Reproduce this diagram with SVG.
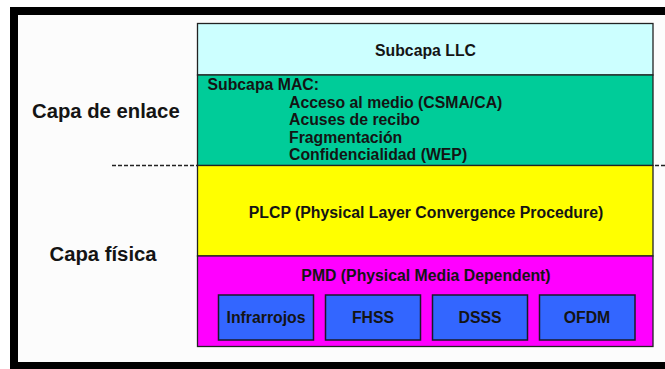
<svg xmlns="http://www.w3.org/2000/svg" width="665" height="369" viewBox="0 0 665 369">
<style>
text{font-family:"Liberation Sans",Arial,sans-serif;font-weight:bold;fill:#141414}
.big{font-size:20.3px}
.t{font-size:15.8px}
.c{text-anchor:middle}
.layer{stroke:#222;stroke-width:1.3}
.blue{fill:#3366FF;stroke:#1a1a2a;stroke-width:1.5}
.dash{stroke:#222;stroke-width:1.4;stroke-dasharray:4 2;fill:none}
</style>
<rect width="665" height="369" fill="#fff"/>
<g id="frame">
<rect x="14" y="11" width="700" height="355" fill="#fcfcfc" stroke="#000" stroke-width="8"/>
</g>
<g id="labels">
<text class="big" x="32" y="118">Capa de enlace</text>
<text class="big" x="49.5" y="260.5">Capa física</text>
</g>
<g id="connectors">
<line class="dash" x1="112" y1="165.5" x2="197" y2="165.5"/>
<line class="dash" x1="655" y1="165.5" x2="665" y2="165.5"/>
</g>
<g id="llc">
<rect class="layer" x="197.5" y="23.5" width="455.5" height="51.5" fill="#CCFFFF"/>
<text class="t c" x="425.5" y="56">Subcapa LLC</text>
</g>
<g id="mac">
<rect class="layer" x="197.5" y="75" width="455.5" height="90.5" fill="#00CC99"/>
<text class="t" x="207.5" y="90">Subcapa MAC:</text>
<text class="t" x="289" y="107.5">Acceso al medio (CSMA/CA)</text>
<text class="t" x="289" y="125">Acuses de recibo</text>
<text class="t" x="289" y="142.5">Fragmentación</text>
<text class="t" x="289" y="160">Confidencialidad (WEP)</text>
</g>
<g id="plcp">
<rect class="layer" x="197.5" y="165.5" width="455.5" height="90.5" fill="#FFFF00"/>
<text class="t c" x="426" y="217.5">PLCP (Physical Layer Convergence Procedure)</text>
</g>
<g id="pmd">
<rect class="layer" x="197.5" y="256" width="455.5" height="90.5" fill="#FF00FF"/>
<text class="t c" x="426" y="281">PMD (Physical Media Dependent)</text>
</g>
<g id="infrarrojos">
<rect class="blue" x="218.5" y="295" width="95" height="45"/>
<text class="t c" x="266" y="323">Infrarrojos</text>
</g>
<g id="fhss">
<rect class="blue" x="325.5" y="295" width="95" height="45"/>
<text class="t c" x="373" y="323">FHSS</text>
</g>
<g id="dsss">
<rect class="blue" x="432.5" y="295" width="95" height="45"/>
<text class="t c" x="480" y="323">DSSS</text>
</g>
<g id="ofdm">
<rect class="blue" x="539.5" y="295" width="95.5" height="45"/>
<text class="t c" x="587" y="323">OFDM</text>
</g>
</svg>
